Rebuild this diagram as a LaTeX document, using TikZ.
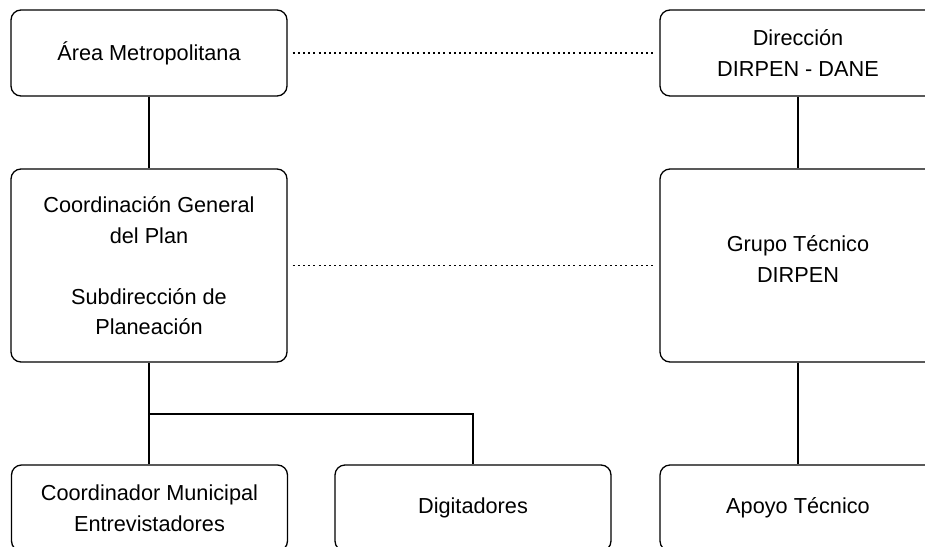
\documentclass[tikz,border=0pt]{standalone}
\usepackage{fontspec}
\setmainfont{Liberation Sans}
\begin{document}
\begin{tikzpicture}[x=1pt,y=-1pt,
  box/.style={draw=black,line width=1.3pt,rounded corners=10pt,minimum width=276pt,minimum height=86pt,inner sep=0pt,align=center,font=\fontsize{21.7}{30.5}\selectfont},
  tall/.style={box,minimum height=193pt},
  link/.style={line width=2pt},
  dotlink/.style={line width=1.6pt,dash pattern=on 2pt off 3.2pt,shorten <=5pt,shorten >=5pt}]
\useasboundingbox (0,0) rectangle (925,546);
\clip (0,0) rectangle (925,546);
\node[box] (area) at (149,53) {Área Metropolitana};
\node[box] (dir) at (798,53) {Dirección\\DIRPEN - DANE};
\node[tall] (coord) at (149,265.5) {};
\node[align=center,font=\fontsize{21.7}{30.5}\selectfont] (coordt) at (149,266) {Coordinación General\\del Plan\\[30.5pt]Subdirección de\\Planeación};
\node[tall] (grupo) at (798,265.5) {};
\node[align=center,font=\fontsize{21.7}{30.5}\selectfont] (grupot) at (798,259) {Grupo Técnico\\DIRPEN};
\node[box] (cm) at (149.5,508) {Coordinador Municipal\\Entrevistadores};
\node[box] (dig) at (473,508) {Digitadores};
\node[box] (apoyo) at (798,508) {Apoyo Técnico};
\coordinate (br) at (149,414);
\draw[link] (area.south) -- (coord.north);
\draw[link] (coord.south) -- (coord.south |- cm.north);
\draw[link] (br) -| (dig.north);
\draw[link] (dir.south) -- (grupo.north);
\draw[link] (grupo.south) -- (apoyo.north);
\draw[dotlink] (area.east) -- (dir.west);
\draw[dotlink] (coord.east) -- (grupo.west);
\end{tikzpicture}
\end{document}
